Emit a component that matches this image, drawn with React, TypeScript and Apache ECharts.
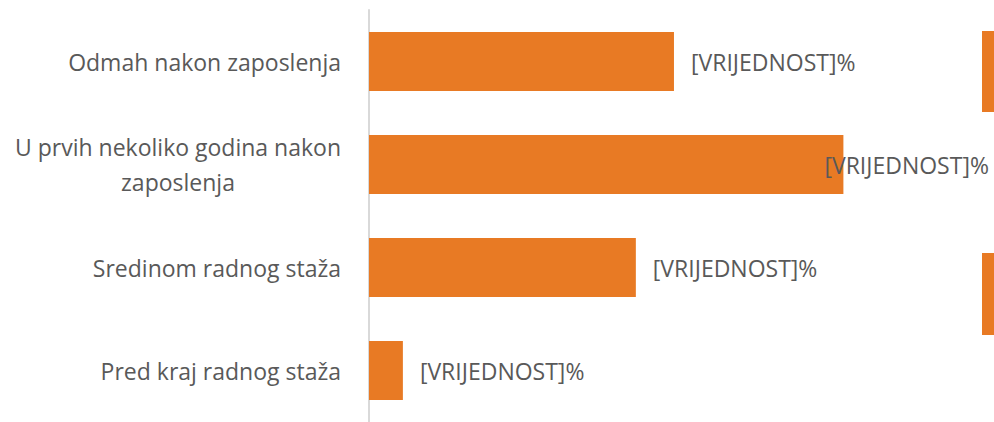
import React, { useEffect, useRef } from "react";
import * as echarts from "echarts";

const categories = [
  "Odmah nakon zaposlenja",
  "U prvih nekoliko godina nakon\nzaposlenja",
  "Sredinom radnog staža",
  "Pred kraj radnog staža",
];
const values = [36, 56, 31.5, 4];
const labelText = "[VRIJEDNOST]%";
const labelOffsets = [0, -36, 0, 0];

const ORANGE = "#E87A24";
const TEXT = "#595959";
const FONT = "'Open Sans', 'Noto Sans', sans-serif";

export default function App() {
  const ref = useRef<HTMLDivElement>(null);
  useEffect(() => {
    if (!ref.current) return;
    const chart = echarts.init(ref.current, null, { renderer: "svg" });
    chart.setOption({
      animation: false,
      backgroundColor: "#ffffff",
      grid: { left: 369, top: 10, width: 593, height: 415, containLabel: false },
      xAxis: {
        type: "value",
        min: 0,
        max: 70,
        show: false,
      },
      yAxis: {
        type: "category",
        inverse: true,
        data: categories,
        axisLine: { show: true, lineStyle: { color: "#D9D9D9", width: 2 } },
        axisTick: { show: false },
        axisLabel: {
          margin: 28,
          color: TEXT,
          fontFamily: FONT,
          fontSize: 23,
          lineHeight: 35,
          formatter: (v: string) =>
            v
              .split("\n")
              .map((l) => `{c|${l}}`)
              .join("\n"),
          rich: {
            c: { align: "center", color: TEXT, fontFamily: FONT, fontSize: 23, lineHeight: 35 },
          },
        },
      },
      series: [
        {
          type: "bar",
          barWidth: 59,
          itemStyle: { color: ORANGE },
          data: values.map((v, i) => ({
            value: v,
            label: { offset: [labelOffsets[i], 0] },
          })),
          label: {
            show: true,
            position: "right",
            distance: 17,
            formatter: () => labelText,
            color: TEXT,
            fontFamily: FONT,
            fontSize: 23,
          },
        },
      ],
      graphic: [
        { type: "rect", shape: { x: 982, y: 31, width: 12, height: 81 }, style: { fill: ORANGE } },
        { type: "rect", shape: { x: 982, y: 253, width: 12, height: 82 }, style: { fill: ORANGE } },
      ],
    });
    return () => chart.dispose();
  }, []);
  return (
    <div
      ref={ref}
      style={{ position: "fixed", left: 0, top: 0, width: 994, height: 422 }}
    />
  );
}
